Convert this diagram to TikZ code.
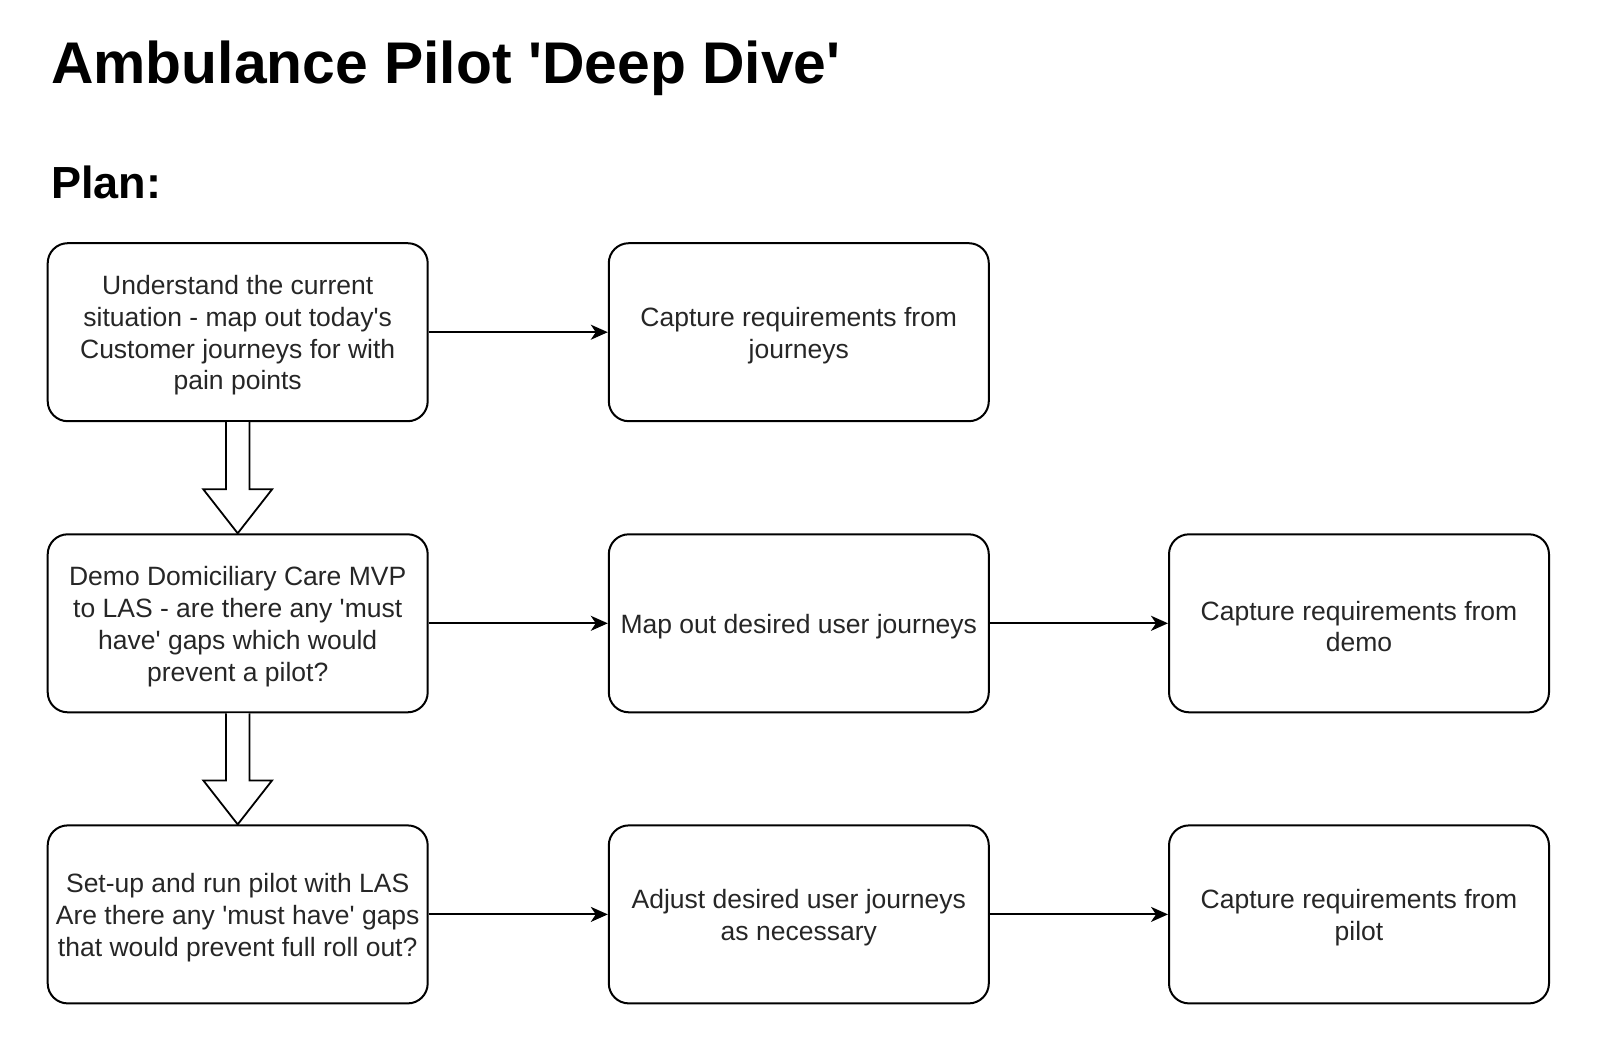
\documentclass[tikz,border=0pt]{standalone}
\usepackage{fontspec}
\setmainfont{Liberation Sans}[Ligatures=TeXOff]
\usetikzlibrary{arrows.meta,calc}
\definecolor{txt}{HTML}{262626}
\newcommand{\topstrut}{\rule{0pt}{25.5pt}}
\begin{document}
\begin{tikzpicture}[x=1pt,y=-1pt,
  box/.style={draw=black, line width=2pt, rounded corners=20pt, minimum width=380pt, minimum height=178pt,
    align=center, font=\fontsize{26.5}{31.8}\selectfont, text=txt, inner sep=0pt},
  conn/.style={line width=2pt, -{Stealth[length=17pt,width=15pt,inset=5pt]}},
  block/.style={draw=black, line width=1.8pt, fill=white, line join=miter}]
\useasboundingbox (0,0) rectangle (1610,1062);
\node[anchor=base west, font=\bfseries\fontsize{58.8}{70}\selectfont, inner sep=0pt] (title) at (51,84) {Ambulance Pilot 'Deep Dive'};
\node[anchor=base west, font=\bfseries\fontsize{45}{54}\selectfont, inner sep=0pt] (plan) at (51,198) {Plan:};

\node[box] (b11) at (237.7,332.2) {\topstrut Understand the current\\situation - map out today's\\Customer journeys for with\\pain points};
\node[box] (b12) at (798.8,332.2) {\topstrut Capture requirements from\\journeys};
\node[box] (b21) at (237.7,623.3) {\topstrut Demo Domiciliary Care MVP\\to LAS - are there any 'must\\have' gaps which would\\prevent a pilot?};
\node[box] (b22) at (798.8,623.3) {\topstrut Map out desired user journeys};
\node[box] (b23) at (1359,623.3) {\topstrut Capture requirements from\\demo};
\node[box] (b31) at (237.7,914.4) {\topstrut Set-up and run pilot with LAS\\Are there any 'must have' gaps\\that would prevent full roll out?};
\node[box] (b32) at (798.8,914.4) {\topstrut Adjust desired user journeys\\as necessary};
\node[box] (b33) at (1359,914.4) {\topstrut Capture requirements from\\pilot};

\draw[conn] (b11) -- (b12);
\draw[conn] (b21) -- (b22);
\draw[conn] (b22) -- (b23);
\draw[conn] (b31) -- (b32);
\draw[conn] (b32) -- (b33);

\draw[block] ($(b11.south)+(-11.7,0)$) -- ($(b21.north)+(-11.7,-44)$) -- ($(b21.north)+(-34.4,-44)$)
  -- (b21.north) -- ($(b21.north)+(34.4,-44)$) -- ($(b21.north)+(11.7,-44)$) -- ($(b11.south)+(11.7,0)$);
\draw[block] ($(b21.south)+(-11.7,0)$) -- ($(b31.north)+(-11.7,-44)$) -- ($(b31.north)+(-34.4,-44)$)
  -- (b31.north) -- ($(b31.north)+(34.4,-44)$) -- ($(b31.north)+(11.7,-44)$) -- ($(b21.south)+(11.7,0)$);
\end{tikzpicture}
\end{document}
